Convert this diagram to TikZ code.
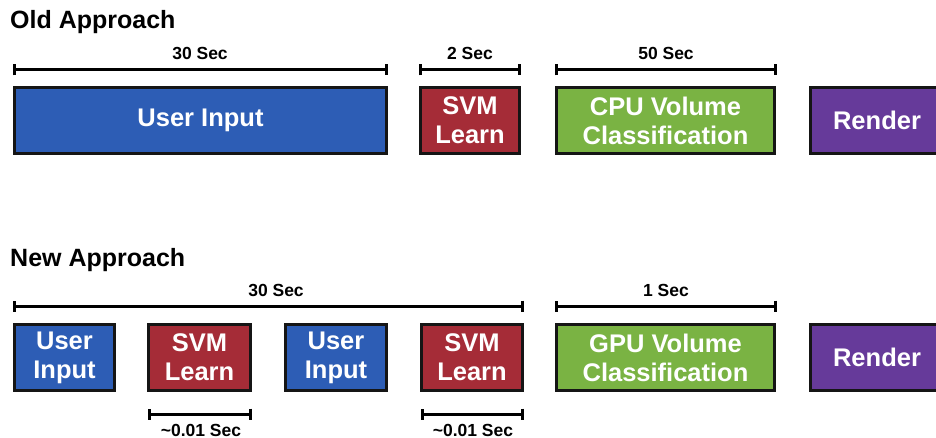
\documentclass[tikz,border=0pt]{standalone}
\usepackage{fontspec}
\setmainfont{Liberation Sans}
\usetikzlibrary{arrows.meta}
\definecolor{boxblue}{HTML}{2D5DB5}
\definecolor{boxred}{HTML}{A52C37}
\definecolor{boxgreen}{HTML}{7AB343}
\definecolor{boxpurple}{HTML}{663A9A}
\definecolor{edge}{HTML}{151515}
\begin{document}
\begin{tikzpicture}[x=1pt,y=-1pt,
  stage/.style={draw=edge, line width=2.8pt, text=white,
    font=\fontsize{25.5}{29}\selectfont\bfseries, align=center,
    inner sep=0pt, minimum height=66pt},
  span/.style={draw=black, line width=3pt,
    {Bar[width=11pt]}-{Bar[width=11pt]}},
  spanlabel/.style={font=\fontsize{17.5}{20}\selectfont\bfseries, inner sep=0pt},
  heading/.style={font=\fontsize{25}{29}\selectfont\bfseries, anchor=west, inner sep=0pt}]
\useasboundingbox (0,0) rectangle (936,438);

% ---------- old pipeline ----------
\node[heading] (oldtitle) at (10,22) {Old Approach};

\node[stage, fill=boxblue,   minimum width=372pt] (oldui)  at (200.5,120.5) {User Input};
\node[stage, fill=boxred,    minimum width=99pt]  (oldsvm) at (470,120.5) {SVM\\Learn};
\node[stage, fill=boxgreen,  minimum width=218pt] (cpu)    at (665.5,120.5) {CPU Volume\\Classification};
\node[stage, fill=boxpurple, minimum width=133pt] (oldren) at (877,120.5) {Render};

\coordinate (o1a) at (13,70);  \coordinate (o1b) at (388,70);
\coordinate (o2a) at (419,70); \coordinate (o2b) at (521,70);
\coordinate (o3a) at (555,70); \coordinate (o3b) at (777,70);
\draw[span] (o1a) -- (o1b);
\draw[span] (o2a) -- (o2b);
\draw[span] (o3a) -- (o3b);
\node[spanlabel] (l30old) at (200,53) {30 Sec};
\node[spanlabel] (l2)     at (470,53) {2 Sec};
\node[spanlabel] (l50)    at (666,53) {50 Sec};

% ---------- new pipeline ----------
\node[heading] (newtitle) at (10,260) {New Approach};

\node[stage, fill=boxblue,   minimum width=100pt] (ui1)    at (64.5,357.5)  {User\\Input};
\node[stage, fill=boxred,    minimum width=102pt] (svm1)   at (199.5,357.5) {SVM\\Learn};
\node[stage, fill=boxblue,   minimum width=101pt] (ui2)    at (336,357.5)   {User\\Input};
\node[stage, fill=boxred,    minimum width=101pt] (svm2)   at (472,357.5)   {SVM\\Learn};
\node[stage, fill=boxgreen,  minimum width=218pt] (gpu)    at (665.5,357.5) {GPU Volume\\Classification};
\node[stage, fill=boxpurple, minimum width=133pt] (newren) at (877,357.5)   {Render};

\coordinate (n1a) at (13,306);  \coordinate (n1b) at (524,306);
\coordinate (n2a) at (555,306); \coordinate (n2b) at (777,306);
\coordinate (s1a) at (148,414); \coordinate (s1b) at (252,414);
\coordinate (s2a) at (421,414); \coordinate (s2b) at (524,414);
\draw[span] (n1a) -- (n1b);
\draw[span] (n2a) -- (n2b);
\draw[span] (s1a) -- (s1b);
\draw[span] (s2a) -- (s2b);
\node[spanlabel] (l30new) at (276,290) {30 Sec};
\node[spanlabel] (l1)     at (666,290) {1 Sec};
\node[spanlabel] (ls1)    at (201,430) {\textasciitilde 0.01 Sec};
\node[spanlabel] (ls2)    at (473,430) {\textasciitilde 0.01 Sec};
\end{tikzpicture}
\end{document}
